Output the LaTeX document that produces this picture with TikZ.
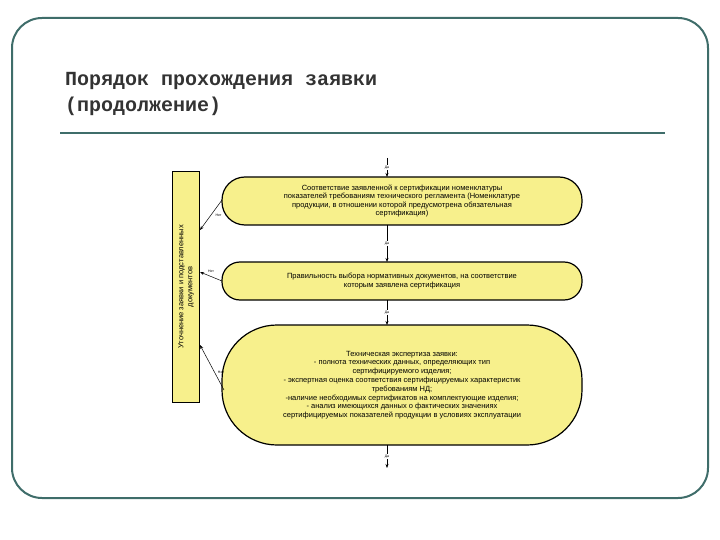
\documentclass[tikz,border=0pt]{standalone}
\usepackage{fontspec}
\usetikzlibrary{arrows.meta}
\setmainfont{Liberation Sans}
\newfontfamily\monof{Liberation Mono}
\definecolor{frm}{HTML}{3F6D6A}
\definecolor{ttl}{HTML}{333333}
\definecolor{yel}{HTML}{F7F08C}
\begin{document}
\begin{tikzpicture}[x=1pt,y=-1pt,
  lbl/.style={font=\fontsize{3.5}{4}\selectfont},
  arr/.style={-{Stealth[length=4pt,width=3pt]},line width=0.5pt}]
\useasboundingbox (0,0) rectangle (720,540);
\draw[frm,line width=2pt,rounded corners=30pt] (12,18) rectangle (708,498);
\node[anchor=north west,inner sep=0,text=ttl,align=left,font=\monof\bfseries\fontsize{20}{26}\selectfont] (t) at (65,72) {Порядок прохождения заявки\\(продолжение)};
\draw[frm,line width=2pt] (60,133) -- (665,133);
% left box
\node[draw=black,line width=1pt,fill=yel,minimum width=27pt,minimum height=230pt,inner sep=0] (L) at (186,287) {};
\node[rotate=90,align=center,font=\fontsize{7.5}{9}\selectfont] at (L) {Уточнение заявки и подставленных\\документов};
% stadiums
\draw[line width=1.2pt,fill=yel,rounded corners=23pt] (222,177) rectangle (582,225);
\node[align=center,font=\fontsize{7.5}{8.5}\selectfont] (s1) at (402,201) {Соответствие заявленной к сертификации номенклатуры\\показателей требованиям технического регламента (Номенклатуре\\продукции, в отношении которой предусмотрена обязательная\\сертификация)};
\draw[line width=1.2pt,fill=yel,rounded corners=18pt] (222,262) rectangle (582,300);
\node[align=center,font=\fontsize{7.5}{8.5}\selectfont] (s2) at (402,281) {Правильность выбора нормативных документов, на соответствие\\которым заявлена сертификация};
\draw[line width=1.2pt,fill=yel,rounded corners=55pt] (222,325) rectangle (582,445);
\node[align=center,font=\fontsize{7.5}{8.8}\selectfont] (s3) at (402,385) {Техническая экспертиза заявки:\\- полнота технических данных, определяющих тип\\сертифицируемого изделия;\\- экспертная оценка соответствия сертифицируемых характеристик\\требованиям НД;\\-наличие необходимых сертификатов на комплектующие изделия;\\- анализ имеющихся данных о фактических значениях\\сертифицируемых показателей продукции в условиях эксплуатации};
\coordinate (a0) at (387,158); \coordinate (a1) at (387,177);
\coordinate (b0) at (387,225); \coordinate (b1) at (387,262);
\coordinate (c0) at (387,300); \coordinate (c1) at (387,325);
\coordinate (d0) at (387,445); \coordinate (d1) at (387,468);
\draw[arr] (a0) -- node[lbl,fill=white,inner sep=0.5pt]{Да} (a1);
\draw[arr] (b0) -- node[lbl,fill=white,inner sep=0.5pt]{Да} (b1);
\draw[arr] (c0) -- node[lbl,fill=white,inner sep=0.5pt]{Да} (c1);
\draw[arr] (d0) -- node[lbl,fill=white,inner sep=0.5pt]{Да} (d1);
\coordinate (n1a) at (222,200); \coordinate (n1b) at (200,230);
\coordinate (n2a) at (222,281); \coordinate (n2b) at (200,272);
\coordinate (n3a) at (224,390); \coordinate (n3b) at (200,345);
\draw[arr] (n1a) -- node[lbl,anchor=west,xshift=1pt]{Нет} (n1b);
\draw[arr] (n2a) -- node[lbl,above=0pt]{Нет} (n2b);
\draw[arr] (n3a) -- node[lbl,right=0pt,pos=0.4]{Нет} (n3b);
\end{tikzpicture}
\end{document}
